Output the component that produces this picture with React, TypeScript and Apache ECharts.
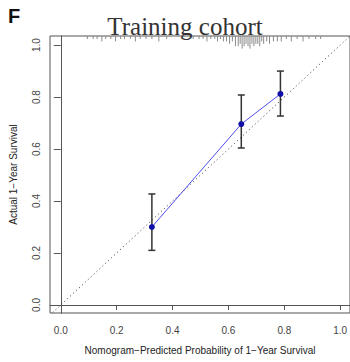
import React, { useEffect, useRef } from "react";
import * as echarts from "echarts";

// Calibration points: nomogram-predicted vs actual 1-year survival
const predicted = [0.326, 0.646, 0.786];
const actual = [0.3, 0.696, 0.812];
const lower = [0.21, 0.604, 0.727];
const upper = [0.427, 0.808, 0.9];

// Reference (ideal) line y = x
const diagLine = [-0.05, 1.05];

// Axis ticks
const tickValues = [0, 0.2, 0.4, 0.6, 0.8, 1.0];

// Rug (distribution of predicted probabilities) at the top
const rugProb = [
  0.095, 0.116, 0.13, 0.147, 0.161, 0.179, 0.196, 0.214, 0.228, 0.249, 0.267,
  0.284, 0.305, 0.326, 0.351, 0.379, 0.474, 0.495, 0.509, 0.523, 0.537, 0.551,
  0.561, 0.572, 0.582, 0.593, 0.604, 0.614, 0.625, 0.635, 0.642, 0.649, 0.656,
  0.663, 0.67, 0.677, 0.684, 0.691, 0.698, 0.705, 0.712, 0.719, 0.726, 0.737,
  0.747, 0.761, 0.775, 0.789, 0.807, 0.825, 0.846, 0.867, 0.888, 0.912, 0.93,
];
const rugCount = [
  1, 1, 1, 2, 1, 1, 2, 1, 1, 1, 2, 1, 1, 1, 2, 1, 1, 1, 1, 2, 1, 1, 2, 1, 2, 2,
  3, 2, 4, 4, 3, 5, 4, 3, 4, 5, 3, 4, 3, 3, 4, 2, 3, 2, 3, 2, 2, 2, 1, 2, 1, 2,
  1, 1, 1,
];

const X_MIN = -0.0386;
const X_MAX = 1.035;
const Y_MIN = -0.031;
const Y_MAX = 1.035;

export default function App() {
  const ref = useRef<HTMLDivElement>(null);

  useEffect(() => {
    document.body.style.margin = "0";
    const chart = echarts.init(ref.current!, null, { renderer: "svg" });
    const axisFont = "Liberation Sans, Arial, sans-serif";

    const option: any = {
      animation: false,
      backgroundColor: "#ffffff",
      grid: {
        left: 44,
        top: 36,
        right: -1,
        bottom: 49,
        show: true,
        borderColor: "#555555",
        borderWidth: 1,
        backgroundColor: "transparent",
      },
      graphic: [
        {
          type: "text",
          left: 8,
          top: 6,
          style: {
            text: "F",
            font: "bold 20px Liberation Sans, Arial, sans-serif",
            fill: "#111111",
          },
        },
        {
          type: "text",
          x: 185,
          y: 26,
          style: {
            text: "Training cohort",
            font: "25px Liberation Serif, Times New Roman, serif",
            fill: "#333333",
            align: "center",
            verticalAlign: "middle",
          },
        },
      ],
      xAxis: {
        type: "value",
        min: X_MIN,
        max: X_MAX,
        name: "Nomogram\u2212Predicted Probability of 1\u2212Year Survival",
        nameLocation: "middle",
        nameGap: 32,
        nameTextStyle: { fontFamily: axisFont, fontSize: 10, color: "#222" },
        axisLine: { show: true, lineStyle: { color: "#555", width: 1 } },
        axisTick: {
          show: true,
          length: 5,
          customValues: tickValues,
          lineStyle: { color: "#555" },
        },
        axisLabel: {
          customValues: tickValues,
          formatter: (v: number) => v.toFixed(1),
          margin: 12,
          fontFamily: axisFont,
          fontSize: 10,
          color: "#444",
        },
        splitLine: { show: false },
      },
      yAxis: {
        type: "value",
        min: Y_MIN,
        max: Y_MAX,
        name: "Actual 1\u2212Year Survival",
        nameLocation: "middle",
        nameGap: 32,
        nameTextStyle: { fontFamily: axisFont, fontSize: 10, color: "#222" },
        axisLine: { show: true, lineStyle: { color: "#555", width: 1 } },
        axisTick: {
          show: true,
          length: 7,
          customValues: tickValues,
          lineStyle: { color: "#555" },
        },
        axisLabel: {
          customValues: tickValues,
          formatter: (v: number) => v.toFixed(1),
          rotate: 90,
          margin: 9,
          fontFamily: axisFont,
          fontSize: 10,
          color: "#444",
        },
        splitLine: { show: false },
      },
      series: [
        {
          type: "line",
          data: diagLine.map((v) => [v, v]),
          symbol: "none",
          lineStyle: { color: "#333", width: 1, type: [1, 3] },
          clip: true,
          z: 1,
        },
        {
          type: "custom",
          data: rugProb.map((p, i) => [p, rugCount[i]]),
          renderItem: (params: any, api: any) => {
            const top = api.coord([api.value(0), Y_MAX]);
            const len = api.value(1) * 2.4 + 0.6;
            return {
              type: "line",
              shape: { x1: top[0], y1: top[1], x2: top[0], y2: top[1] + len },
              style: { stroke: "#8a8a8a", lineWidth: 1 },
            };
          },
          clip: false,
          z: 2,
        },
        {
          type: "custom",
          data: predicted.map((p, i) => [p, lower[i], upper[i]]),
          renderItem: (params: any, api: any) => {
            const lo = api.coord([api.value(0), api.value(1)]);
            const hi = api.coord([api.value(0), api.value(2)]);
            const w = 3.5;
            const s = { stroke: "#333333", lineWidth: 1.5 };
            return {
              type: "group",
              children: [
                { type: "line", shape: { x1: lo[0], y1: lo[1], x2: hi[0], y2: hi[1] }, style: s },
                { type: "line", shape: { x1: lo[0] - w, y1: lo[1], x2: lo[0] + w, y2: lo[1] }, style: s },
                { type: "line", shape: { x1: hi[0] - w, y1: hi[1], x2: hi[0] + w, y2: hi[1] }, style: s },
              ],
            };
          },
          z: 3,
        },
        {
          type: "line",
          data: predicted.map((p, i) => [p, actual[i]]),
          symbol: "circle",
          symbolSize: 6,
          itemStyle: { color: "#1010a8" },
          lineStyle: { color: "#5050f0", width: 1 },
          z: 4,
        },
      ],
    };

    chart.setOption(option);
    return () => chart.dispose();
  }, []);

  return <div ref={ref} style={{ width: 350, height: 362 }} />;
}
